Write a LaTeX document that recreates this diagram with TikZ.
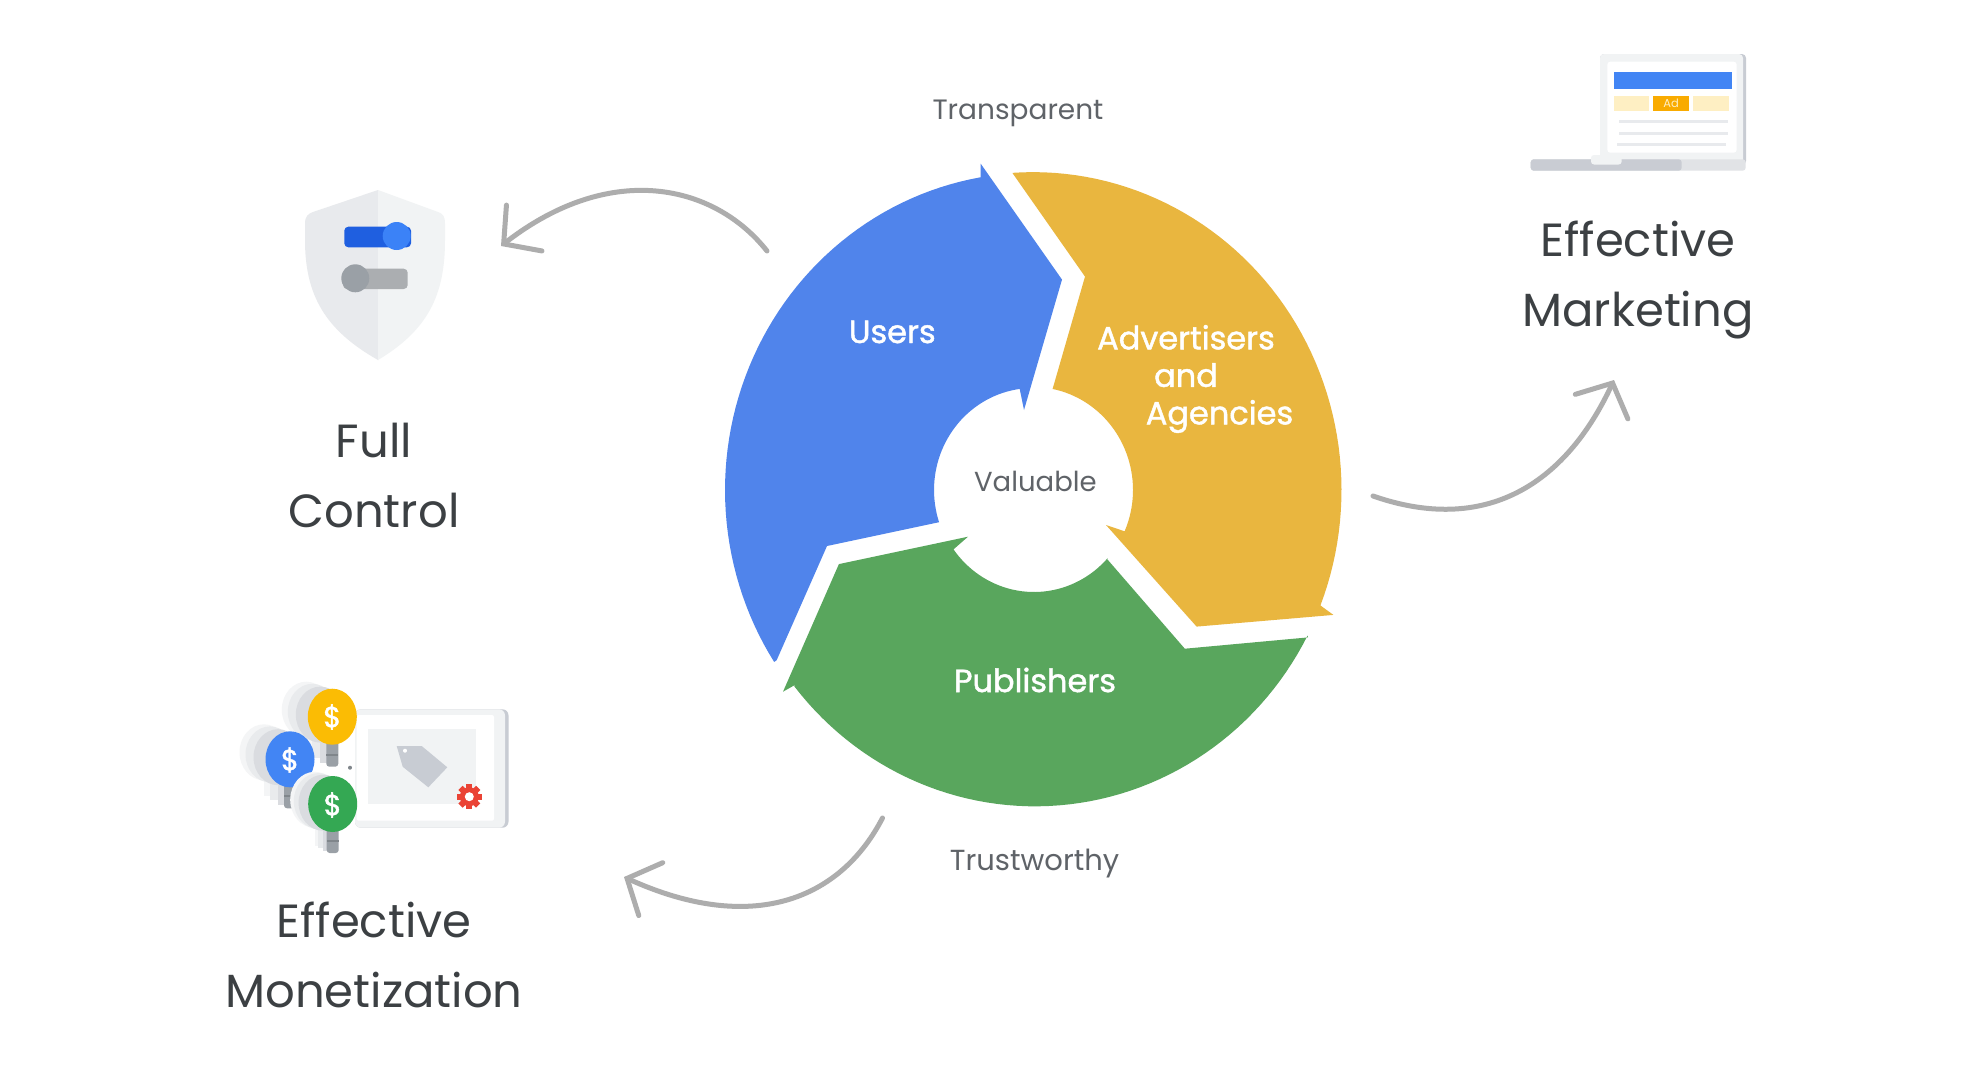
\documentclass[tikz,border=0pt]{standalone}
\usepackage{fontspec}
\setmainfont{Poppins}
\newfontfamily\segfont[FakeBold=1.4]{Poppins}
\usetikzlibrary{arrows.meta,calc}
\definecolor{cblue}{HTML}{5084EB}
\definecolor{cgold}{HTML}{E9B63F}
\definecolor{cgreen}{HTML}{59A65D}
\definecolor{arrowgrey}{HTML}{ADADAD}
\definecolor{txtmid}{HTML}{5F6368}
\definecolor{txtdark}{HTML}{3C4043}
\definecolor{g50}{HTML}{F1F3F4}
\definecolor{g100}{HTML}{E8EAED}
\definecolor{g200}{HTML}{DADCE0}
\definecolor{g300}{HTML}{C8CCD3}
\definecolor{g500}{HTML}{9AA0A6}
\definecolor{g600}{HTML}{80868B}
\definecolor{gb}{HTML}{4285F4}
\definecolor{gy}{HTML}{FBBC04}
\definecolor{gg}{HTML}{34A853}
\definecolor{gr}{HTML}{EA4335}
\definecolor{togblue}{HTML}{1F5FE0}
\definecolor{togknob}{HTML}{3B82F7}
\definecolor{toggrey}{HTML}{ABAEB1}
\definecolor{paley}{HTML}{FEEFC3}
\definecolor{adbg}{HTML}{F9AB00}
\definecolor{baselt}{HTML}{E1E3E6}
\definecolor{basedk}{HTML}{C9CCD3}
\definecolor{ghosta}{HTML}{DADCE0}
\definecolor{ghostb}{HTML}{E9EBED}
\definecolor{ghostc}{HTML}{F4F5F6}
\tikzset{
  segtext/.style={font=\fontsize{32}{37.5}\selectfont\segfont,text=white,align=center,inner sep=0pt},
  smalltext/.style={font=\fontsize{28}{35}\selectfont,text=txtmid,inner sep=0pt},
  bigtext/.style={font=\fontsize{46.5}{70}\selectfont,text=txtdark,align=center,inner sep=0pt},
  flow/.style={draw=arrowgrey,line width=5pt,line cap=round,line join=round,
    -{Straight Barb[length=26pt,width=58pt,line cap=round]}},
  stem/.style={fill=g500,rounded corners=3pt},
  dollar/.style={font=\fontsize{29}{30}\selectfont\segfont,text=white,inner sep=0pt},
}
\newcommand{\ghost}[5]{% x, y, colour, stem length, layer offset
  \fill[#3] (#1-#5,#2+22-#5*0.25) rectangle (#1-#5+12,#2+#4-#5*0.6);
  \fill[#3] (#1-#5,#2-#5*0.35) ellipse[x radius=24.5,y radius=28];
}
\newcommand{\bulb}[5]{% x, y, colour, stem length, ghost spread
  \ghost{#1-6}{#2}{ghostc}{#4}{#5*1.0}
  \ghost{#1-6}{#2}{ghostb}{#4}{#5*0.7}
  \ghost{#1-6}{#2}{ghosta}{#4}{#5*0.3}
  \path[stem] (#1-6,#2+22) rectangle (#1+6,#2+#4);
  \fill[g600] (#1-6,#2+#4-13) rectangle (#1+6,#2+#4-11);
  \fill[#3] (#1,#2) ellipse[x radius=24.5,y radius=28];
}
\begin{document}
\begin{tikzpicture}[x=1pt,y=-1pt]
\useasboundingbox (0,0) rectangle (1988,1076);
\fill[white] (0,0) rectangle (1988,1076);
\def\cx{1033}\def\cy{490}\def\sy{1.0304}
% Users
\fill[cblue] (980.7,163.7) -- (1062,279.6) -- (1024,410) -- (1020,390.4)
  -- plot[domain=97.6:198.4,samples=40] ({\cx+99*cos(\x)},{\cy-\sy*99*sin(\x)})
  -- (827,546) -- (776.6,660.3)
  -- plot[domain=212.8:99.8,samples=60] ({\cx+308*cos(\x)},{\cy-\sy*308*sin(\x)}) -- cycle;
% Advertisers
\fill[cgold] (1012.7,173.4)
  -- plot[domain=93.8:-21.3,samples=60] ({\cx+308.5*cos(\x)},{\cy-\sy*308.5*sin(\x)})
  -- (1333.4,614.9) -- (1196.6,626.6) -- (1106,525) -- (1124,531.1)
  -- plot[domain=-23.5:78.7,samples=40] ({\cx+100*cos(\x)},{\cy-\sy*100*sin(\x)})
  -- (1085,276.6) -- cycle;
% Publishers
\fill[cgreen] (1308,637.4) -- (1184.8,648.7) -- (1107.4,559.4)
  -- plot[domain=-42:-144.4,samples=40] ({\cx+1+99*cos(\x)},{\cy-\sy*99*sin(\x)})
  -- (968,536.7) -- (838.9,564.1) -- (783,691.7) -- (794.7,685.1)
  -- plot[domain=218.4:332.6,samples=60] ({\cx+2+307*cos(\x)},{\cy-\sy*307*sin(\x)}) -- cycle;
% segment labels
\node[segtext] (users) at (892.3,332) {Users};
\node[segtext] (adv) at (1186,379) {Advertisers\\and\\\hspace*{67pt}Agencies};
\node[segtext] (pub) at (1035,680) {Publishers};
\node[smalltext,font=\fontsize{27.5}{35}\selectfont] (val) at (1035.4,481) {Valuable};
\node[smalltext] (transp) at (1018,113) {Transparent};
\node[smalltext,font=\fontsize{29}{35}\selectfont] (trust) at (1034.6,863) {Trustworthy};
% big labels
\node[bigtext] (mkt) at (1638,280) {Effective\\Marketing};
\node[bigtext] (ctrl) at (374,475) {Full\\Control};
\node[bigtext] (mon) at (374,955) {Effective\\Monetization};
% arrows
\coordinate (a1s) at (767,251); \coordinate (a1e) at (501,246);
\coordinate (a2s) at (1373,496); \coordinate (a2e) at (1614,380);
\coordinate (a3s) at (882.5,818); \coordinate (a3e) at (624,877);
\draw[flow] (a1s) .. controls (715,185) and (612,160) .. (a1e);
\draw[flow] (a2s) .. controls (1485,535) and (1565,485) .. (a2e);
\draw[flow] (a3s) .. controls (840,900) and (752,935) .. (a3e);
% shield icon
\fill[g100] (378,190) -- (378,360) .. controls (325,330) and (305,295) .. (305,240)
  -- (305,224) .. controls (305,216) and (308,214) .. (313,212) -- cycle;
\fill[g50] (378,190) -- (378,360) .. controls (428,330) and (445,295) .. (445,240)
  -- (445,224) .. controls (445,216) and (443,214) .. (438,212) -- cycle;
\fill[togblue,rounded corners=4pt] (344.3,226.7) rectangle (411,247.3);
\fill[togknob] (396.7,236) circle[radius=14];
\fill[toggrey,rounded corners=4pt] (343,268.7) rectangle (407.7,289);
\fill[g500] (355.3,278.3) circle[radius=14];
% tablet icon
\fill[g300,rounded corners=6pt] (355,709.3) rectangle (508.5,827.7);
\fill[g50,rounded corners=6pt] (355,709.3) rectangle (505,827.7);
\fill[white,rounded corners=2pt] (356.7,715) rectangle (494,820.7);
\fill[g50] (368.3,729.3) rectangle (476,804);
\fill[g300] (396.7,746) -- (421.7,746) -- (447.3,767.3) -- (428.3,787.3) -- (402.7,766.7) -- cycle;
\fill[white] (405,750.7) circle[radius=2];
\fill[g600] (350,767.7) circle[radius=2];
\begin{scope}[shift={(469.3,796.7)}]
  \foreach \a in {0,45,...,315}{
    \fill[gr,rotate=\a] (-3,-12.5) rectangle (3,0);
  }
  \fill[gr] (0,0) circle[radius=9.5];
  \fill[white] (0,0) circle[radius=4.5];
\end{scope}
% bulbs
\bulb{332.3}{716.7}{gy}{50}{20}
\bulb{290}{759.3}{gb}{49}{20}
\bulb{332.7}{804}{gg}{49}{12}
\node[dollar] (d1) at (332.3,717) {\$};
\node[dollar] (d2) at (290,760) {\$};
\node[dollar] (d3) at (332.7,805) {\$};
% laptop icon
\fill[g300,rounded corners=4pt] (1600,54) rectangle (1746,165);
\fill[g50,rounded corners=4pt] (1600,54) rectangle (1743,165);
\fill[white,rounded corners=3pt] (1607.3,61.7) rectangle (1736.7,152.7);
\fill[gb] (1614.3,71.7) rectangle (1731.7,89);
\fill[paley] (1614.3,95.7) rectangle (1649.3,111);
\fill[paley] (1692.7,95.7) rectangle (1729.3,111);
\fill[adbg] (1652.7,95.7) rectangle (1689.3,111);
\node[font=\fontsize{11.5}{13}\selectfont,text=paley,inner sep=0pt] (ad) at (1671,103.5) {Ad};
\fill[g100] (1619,120.2) rectangle (1727.7,123.2);
\fill[g100] (1619,131.5) rectangle (1727.7,134.5);
\fill[g100] (1617.3,142.5) rectangle (1726,145.5);
\fill[baselt,rounded corners=3pt] (1530.7,159.3) rectangle (1745.7,170.7);
\fill[basedk,rounded corners=3pt] (1530.7,159.3) rectangle (1681.7,170.7);
\fill[g50,rounded corners=3pt] (1591,155) rectangle (1621.7,164.5);
\end{tikzpicture}
\end{document}
